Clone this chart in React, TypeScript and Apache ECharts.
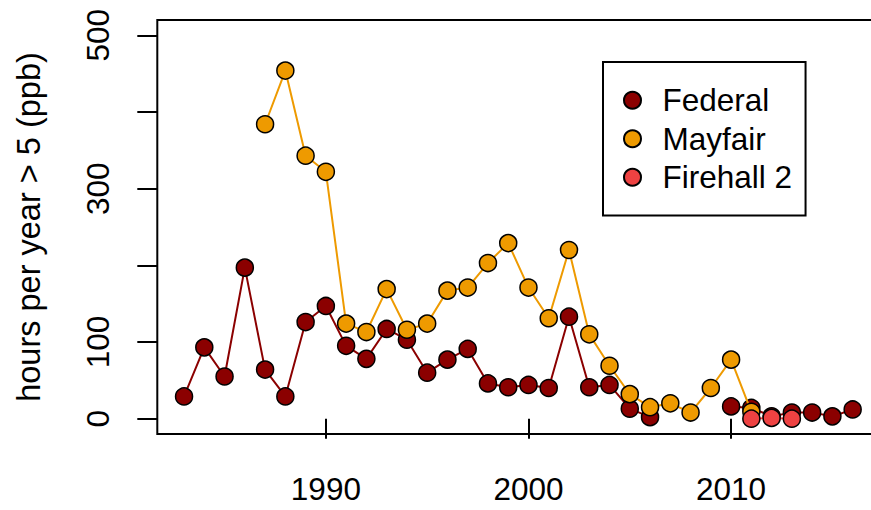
import React, { useEffect, useRef } from "react";
import * as echarts from "echarts";

const years = [
  1983, 1984, 1985, 1986, 1987, 1988, 1989, 1990, 1991, 1992, 1993, 1994,
  1995, 1996, 1997, 1998, 1999, 2000, 2001, 2002, 2003, 2004, 2005, 2006,
  2007, 2008, 2009, 2010, 2011, 2012, 2013, 2014, 2015, 2016,
];

const federal: (number | null)[] = [
  29, 93, 55, 197, 64, 29, 126, 147, 95, 78, 117, 103,
  60, 77, 91, 46, 41, 44, 40, 133, 41, 44, 13, 2,
  null, null, null, 16, 14, 3, 8, 8, 3, 12,
];

const mayfair: (number | null)[] = [
  null, null, null, null, 384, 454, 343, 322, 124, 113, 169, 116,
  124, 167, 171, 203, 229, 171, 131, 220, 110, 69, 32, 15,
  20, 8, 40, 77, 9, null, null, null, null, null,
];

const firehall: (number | null)[] = [
  null, null, null, null, null, null, null, null, null, null, null, null,
  null, null, null, null, null, null, null, null, null, null, null, null,
  null, null, null, null, 0, 1, 0, null, null, null,
];

const seriesNames = ["Federal", "Mayfair", "Firehall 2"];
const seriesColors = ["#8B0000", "#EE9A00", "#EE4242"];
const yTickValues = [0, 100, 200, 300, 400, 500];
const yLabelValues = [0, 100, 300, 500];
const xTickValues = [1990, 2000, 2010];

const FONT = "'Liberation Sans', Arial, Helvetica, sans-serif";
const FS = 31.5;

export default function App() {
  const ref = useRef<HTMLDivElement>(null);

  useEffect(() => {
    if (!ref.current) return;
    const chart = echarts.init(ref.current, null, { renderer: "svg" });
    const allValues = [federal, mayfair, firehall];
    const series = allValues.map((vals, si) => ({
      name: seriesNames[si],
      type: "line",
      data: years.map((y, i) => [y, vals[i] === null ? "-" : vals[i]]),
      connectNulls: false,
      symbol: "circle",
      symbolSize: 17,
      showAllSymbol: true,
      lineStyle: { color: seriesColors[si], width: 2 },
      itemStyle: { color: seriesColors[si], borderColor: "#000", borderWidth: 1.5 },
      emphasis: { disabled: true },
      z: 2 + si,
    }));

    chart.setOption({
      animation: false,
      backgroundColor: "#fff",
      grid: {
        left: 157.3,
        top: 20,
        right: -8.4,
        bottom: 76,
        show: true,
        borderColor: "#000",
        borderWidth: 2,
        backgroundColor: "transparent",
        outerBoundsMode: "none",
        containLabel: false,
      },
      xAxis: {
        type: "value",
        min: 1981.68,
        max: 2017.32,
        splitLine: { show: false },
        axisLine: { show: false },
        axisTick: {
          show: true,
          customValues: xTickValues,
          length: 20,
          inside: false,
          lineStyle: { color: "#000", width: 2 },
        },
        axisLabel: {
          customValues: xTickValues,
          margin: 39,
          fontSize: FS,
          fontFamily: FONT,
          color: "#000",
          formatter: (v: number) => String(v),
        },
      },
      yAxis: {
        type: "value",
        min: -20,
        max: 520,
        name: "hours per year > 5 (ppb)",
        nameLocation: "middle",
        nameRotate: 90,
        nameGap: 112,
        nameTextStyle: { fontSize: 32.5, fontFamily: FONT, color: "#000" },
        splitLine: { show: false },
        axisLine: { show: false },
        axisTick: {
          show: true,
          customValues: yTickValues,
          length: 20,
          inside: false,
          lineStyle: { color: "#000", width: 2 },
        },
        axisLabel: {
          customValues: yLabelValues,
          rotate: 90,
          margin: 43,
          fontSize: FS,
          fontFamily: FONT,
          color: "#000",
        },
      },
      legend: {
        data: seriesNames,
        orient: "vertical",
        left: 603,
        top: 62,
        icon: "circle",
        itemWidth: 50,
        itemHeight: 17,
        itemGap: 6.5,
        padding: [22.25, 13.5, 22.25, 20],
        borderColor: "#000",
        borderWidth: 2,
        backgroundColor: "#fff",
        selectedMode: false,
        textStyle: { fontSize: FS, fontFamily: FONT, color: "#000", lineHeight: FS },
      },
      series,
    });
    return () => chart.dispose();
  }, []);

  return (
    <div
      ref={ref}
      style={{ position: "absolute", left: 0, top: 0, width: 871, height: 510 }}
    />
  );
}
